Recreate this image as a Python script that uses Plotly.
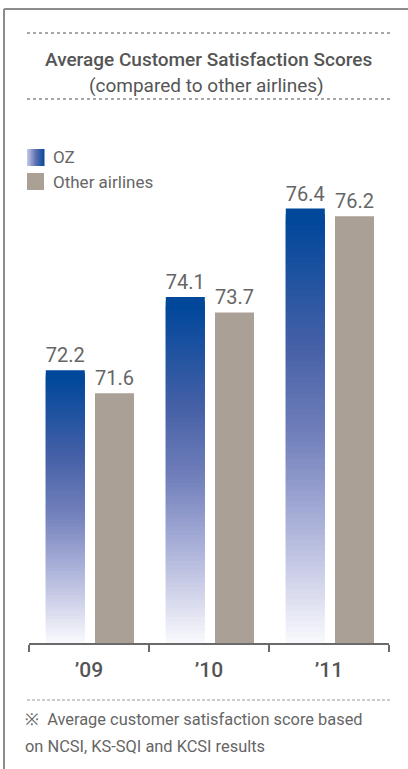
import plotly.graph_objects as go
from plotly.colors import sample_colorscale

# ---- data -------------------------------------------------------------
years = ["’09", "’10", "’11"]
oz_scores = [72.2, 74.1, 76.4]
other_scores = [71.6, 73.7, 76.2]
series_names = ["OZ", "Other airlines"]

title = "Average Customer Satisfaction Scores"
subtitle = "(compared to other airlines)"
footnote = ["※  Average customer satisfaction score based",
            "on NCSI, KS-SQI and KCSI results"]

# ---- style ------------------------------------------------------------
FONT = "Roboto"
GREY_BAR = "#aaa096"
OZ_GRADIENT = [  # 0 = top of bar, 1 = bottom of bar
    [0.00, "#00479b"],
    [0.29, "#4560a6"],
    [0.50, "#7280bb"],
    [0.67, "#a2aad5"],
    [0.82, "#cdd0e8"],
    [0.94, "#f0f1f9"],
    [1.00, "#ffffff"],
]
Y_RANGE = [65.11, 78.05]
N_SEG = 80

W, H = 408, 769
L, R, T, B = 29, 19, 145, 126
PW, PH = W - L - R, H - T - B


def px_x(p):
    return (p - L) / PW


def px_y(p):
    return (H - B - p) / PH


fig = go.Figure()

# OZ bars: each bar is split into thin slices shaded from dark blue at the
# top to white at the axis; slices overlap slightly so no seams show.
seg_x, seg_base, seg_h, seg_col, seg_txt = [], [], [], [], []
for yr, v in zip(years, oz_scores):
    span = v - Y_RANGE[0]
    step = span / N_SEG
    fracs = [1 - (k + 0.5) / N_SEG for k in range(N_SEG)]
    cols = sample_colorscale(OZ_GRADIENT, fracs)
    for k in range(N_SEG):
        top = Y_RANGE[0] + step * (k + 1)
        lo = max(Y_RANGE[0], top - step * 3)
        seg_x.append(yr)
        seg_base.append(lo)
        seg_h.append(top - lo)
        seg_col.append(cols[k])
        seg_txt.append(f"{v:.1f}" if k == N_SEG - 1 else "")

fig.add_trace(go.Bar(
    x=seg_x, y=seg_h, base=seg_base, name=series_names[0],
    marker=dict(color=seg_col, line=dict(width=0)),
    offset=-0.36, width=0.325,
    text=seg_txt, textposition="outside", constraintext="none",
    textfont=dict(family=FONT, size=20, color="#666666"),
    cliponaxis=False, showlegend=False, hoverinfo="skip",
))

fig.add_trace(go.Bar(
    x=years, y=other_scores, name=series_names[1],
    marker=dict(color=GREY_BAR, line=dict(width=0)),
    offset=0.05, width=0.325,
    text=[f"{v:.1f}" for v in other_scores], textposition="outside",
    constraintext="none",
    textfont=dict(family=FONT, size=20, color="#666666"),
    cliponaxis=False, showlegend=False,
))

shapes = []
# frame: top and left rules
shapes.append(dict(type="line", xref="paper", yref="paper",
                   x0=px_x(4), x1=px_x(410), y0=px_y(9), y1=px_y(9),
                   line=dict(color="#8c8c8c", width=2)))
shapes.append(dict(type="line", xref="paper", yref="paper",
                   x0=px_x(4), x1=px_x(4), y0=px_y(9), y1=px_y(775),
                   line=dict(color="#8c8c8c", width=2)))
# dotted rules around the heading
for yy in (33, 99):
    shapes.append(dict(type="line", xref="paper", yref="paper",
                       x0=px_x(27), x1=px_x(390), y0=px_y(yy), y1=px_y(yy),
                       line=dict(color="#a8a8a8", width=2, dash="dot")))
# dashed rule above the note
shapes.append(dict(type="line", xref="paper", yref="paper",
                   x0=px_x(27), x1=px_x(390), y0=px_y(700), y1=px_y(700),
                   line=dict(color="#9a9a9a", width=1, dash="3px,2px")))

# legend swatches
LEG_X0, LEG_X1 = 27, 44
sw_cols = sample_colorscale([[0, "#c6cae7"], [0.5, "#5f72b4"], [1, "#0a4a9c"]],
                            [(i + 0.5) / 17 for i in range(17)])
for i, c in enumerate(sw_cols):
    shapes.append(dict(type="rect", xref="paper", yref="paper",
                       x0=px_x(LEG_X0 + i), x1=px_x(LEG_X0 + i + 1.5),
                       y0=px_y(166), y1=px_y(149),
                       fillcolor=c, line=dict(width=0)))
shapes.append(dict(type="rect", xref="paper", yref="paper",
                   x0=px_x(LEG_X0), x1=px_x(LEG_X1),
                   y0=px_y(190), y1=px_y(173),
                   fillcolor=GREY_BAR, line=dict(width=0)))

annotations = [
    dict(text=title, x=px_x(208), y=px_y(59),
         font=dict(family=FONT, size=19, weight=500, color="#555555")),
    dict(text=subtitle, x=px_x(206), y=px_y(85),
         font=dict(family=FONT, size=19, color="#555555")),
    dict(text=series_names[0], x=px_x(51), y=px_y(157), xanchor="left",
         font=dict(family=FONT, size=17, color="#666666")),
    dict(text=series_names[1], x=px_x(51), y=px_y(182), xanchor="left",
         font=dict(family=FONT, size=17, color="#666666")),
    dict(text=footnote[0], x=px_x(23), y=px_y(719), xanchor="left",
         font=dict(family=FONT, size=16.4, color="#666666")),
    dict(text=footnote[1], x=px_x(23), y=px_y(746), xanchor="left",
         font=dict(family=FONT, size=16.4, color="#666666")),
]
for a in annotations:
    a.update(xref="paper", yref="paper", showarrow=False, yanchor="middle",
             xanchor=a.get("xanchor", "center"))

fig.update_layout(
    width=W, height=H, autosize=False,
    margin=dict(l=L, r=R, t=T, b=B, pad=0),
    paper_bgcolor="white", plot_bgcolor="white",
    barmode="overlay", showlegend=False,
    shapes=shapes, annotations=annotations,
    xaxis=dict(type="category", categoryorder="array", categoryarray=years,
               range=[-0.5, 2.5], showline=True, linecolor="#6a6a6a",
               linewidth=2, ticks="outside", tickson="boundaries",
               ticklen=7, tickwidth=1.5, tickcolor="#6a6a6a",
               ticklabelstandoff=7, showgrid=False, zeroline=False,
               tickfont=dict(family=FONT, size=21, weight=500,
                             color="#555555")),
    yaxis=dict(range=Y_RANGE, visible=False, showgrid=False, zeroline=False),
)

fig.write_html("out.html")
